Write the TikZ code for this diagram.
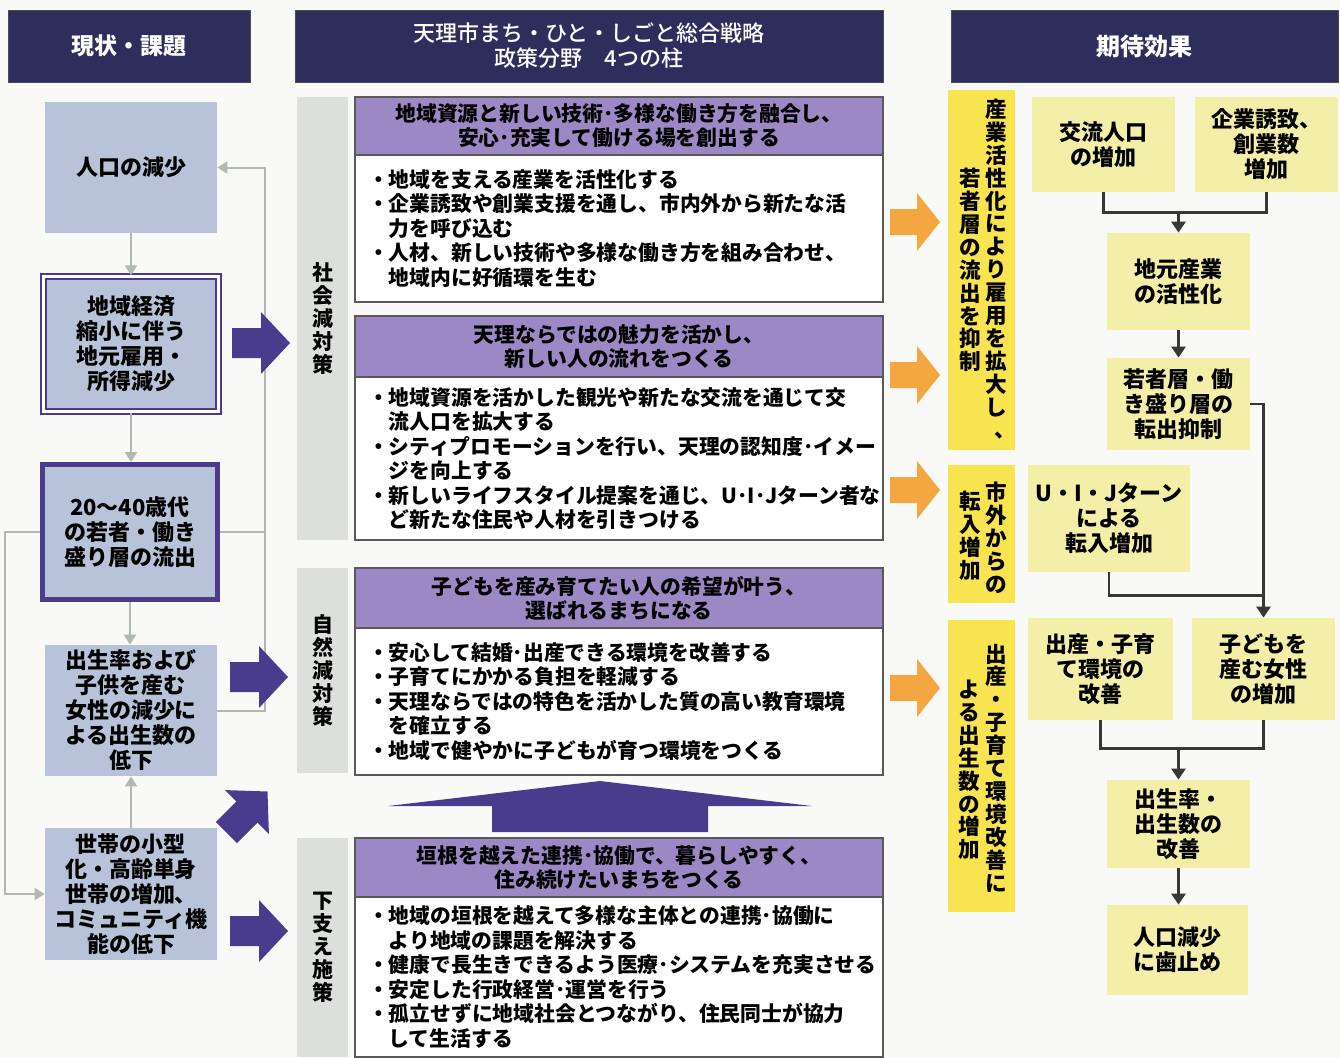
\documentclass[tikz,border=0pt]{standalone}
\usepackage{fontspec}
\setmainfont{Noto Sans CJK JP}
\newfontfamily\medjp{Noto Sans CJK JP Medium}
\usepackage{tikz}
\usetikzlibrary{arrows.meta}

\definecolor{hdrnavy}{RGB}{46,46,92}
\definecolor{probblue}{RGB}{184,194,216}
\definecolor{framepurple}{RGB}{76,58,140}
\definecolor{blockpurple}{RGB}{74,60,140}
\definecolor{pillarlilac}{RGB}{156,136,196}
\definecolor{tabgray}{RGB}{220,223,219}
\definecolor{effyellow}{RGB}{248,228,80}
\definecolor{resyellow}{RGB}{243,239,168}
\definecolor{flowgray}{RGB}{178,184,178}
\definecolor{flowdark}{RGB}{55,55,55}
\definecolor{arroworange}{RGB}{244,166,64}
\definecolor{paper}{RGB}{249,249,247}

% vertical comma, upper right of its cell
\newcommand{\vcomma}{\makebox[1em][l]{\hspace{.45em}\smash{\raisebox{.15em}{、}}}}

\tikzset{
  hdr/.style={fill=hdrnavy, draw=black!70, text=white, align=center, inner sep=0pt, font=\medjp\fontsize{11}{12.5}\selectfont},
  probbox/.style={fill=probblue, align=center, inner sep=0pt, minimum width=86pt, font=\bfseries\fontsize{11}{12.5}\selectfont},
  tab/.style={fill=tabgray, align=center, inner sep=0pt, minimum width=25.5pt, font=\bfseries\fontsize{10.5}{11.5}\selectfont},
  pillarhead/.style={fill=pillarlilac, draw=black!65, line width=0.8pt, align=center, inner sep=0pt, minimum width=264pt, font=\bfseries\fontsize{10.4}{12}\selectfont},
  pillarbody/.style={fill=white, draw=black!65, line width=0.8pt, align=left, text width=251pt, inner xsep=6.5pt, inner ysep=0pt, font=\bfseries\fontsize{10.4}{12.25}\selectfont},
  effbar/.style={fill=effyellow, inner sep=0pt, minimum width=33.5pt},
  vcol/.style={align=center, inner sep=0pt, font=\bfseries\fontsize{10.8}{11.45}\selectfont},
  resbox/.style={fill=resyellow, align=center, inner sep=0pt, minimum width=71.5pt, font=\bfseries\fontsize{11}{12.5}\selectfont},
  grayflow/.style={draw=flowgray, line width=1pt, -{Triangle[width=6pt,length=5pt]}},
  grayline/.style={draw=flowgray, line width=1pt},
  darkflow/.style={draw=flowdark, line width=1.4pt, -{Triangle[width=7pt,length=5.5pt]}},
  darkline/.style={draw=flowdark, line width=1.4pt},
  blockarrow/.pic={\fill[blockpurple] (-29,-15)--(0,-15)--(0,-31)--(29,0)--(0,31)--(0,15)--(-29,15)--cycle;},
  orangearrow/.pic={\fill[arroworange] (-27,-13)--(0,-13)--(0,-29)--(23,0)--(0,29)--(0,13)--(-27,13)--cycle;}
}

\begin{document}
\begin{tikzpicture}[x=0.5pt,y=-0.5pt]
		\useasboundingbox (0,0) rectangle (1340,1057);
		\clip (0,0) rectangle (1340,1057);
		\fill[paper] (0,0) rectangle (1340,1057);
		% headings
		\node[hdr, minimum width=121pt, minimum height=36pt, font=\bfseries\fontsize{11.5}{12.5}\selectfont] (hnow) at (129,46) {現状・課題};
		\node[hdr, minimum width=294pt, minimum height=36pt] (hplan) at (589,46) {天理市まち・ひと・しごと総合戦略\\政策分野　4つの柱};
		\node[hdr, minimum width=193.5pt, minimum height=36pt, font=\bfseries\fontsize{12}{13}\selectfont] (hgoal) at (1144.5,46) {期待効果};
		% present issues
		\node[probbox, minimum height=65.5pt] (pop) at (131,167.5) {人口の減少};
		\node[probbox, draw=framepurple, line width=1.2pt, double=white, double distance=1.2pt, minimum width=87.5pt, minimum height=67.5pt] (econ) at (131,344) {地域経済\\縮小に伴う\\地元雇用・\\所得減少};
		\node[probbox, draw=framepurple, line width=2.4pt, minimum width=87.6pt, minimum height=67.6pt] (youth) at (130,532) {20〜40歳代\\の若者・働き\\盛り層の流出};
		\node[probbox, minimum height=65.5pt] (birth) at (131,710.5) {出生率および\\子供を産む\\女性の減少に\\よる出生数の\\低下};
		\node[probbox, minimum height=66pt] (hh) at (131,894) {世帯の小型\\化・高齢単身\\世帯の増加、\\コミュニティ機\\能の低下};
		% grey links between issues
		\coordinate (loopR) at (265,167.5);
		\coordinate (loopL) at (5,894);
		\draw[grayflow] (pop) -- (econ);
		\draw[grayflow] (econ.south) -- (econ.south |- youth.north);
		\draw[grayflow] (youth.south) -- (youth.south |- birth.north);
		\draw[grayflow] (hh) -- (birth);
		\draw[grayflow] (birth.east) -| (loopR) -- (pop.east);
		\draw[grayline] (youth.east) -- (youth.east -| loopR);
		\draw[grayflow] (youth.west) -| (loopL) -- (hh.west);
		% pillar tabs
		\node[tab, minimum height=221.5pt] (tabsoc) at (322.5,318.5) {社\\会\\減\\対\\策};
		\node[tab, minimum height=102.5pt] (tabnat) at (322.5,670.5) {自\\然\\減\\対\\策};
		\node[tab, minimum height=109.5pt] (tabbase) at (322.5,947.5) {下\\支\\え\\施\\策};
		% four pillars
		\node[pillarhead, minimum height=29pt] (p1h) at (619,126) {地域資源と新しい技術･多様な働き方を融合し、\\安心･充実して働ける場を創出する};
		\node[pillarbody, minimum height=73.5pt] (p1b) at (619,228.5) {・地域を支える産業を活性化する\\・企業誘致や創業支援を通し、市内外から新たな活\\\phantom{・}力を呼び込む\\・人材、新しい技術や多様な働き方を組み合わせ、\\\phantom{・}地域内に好循環を生む};
		\node[pillarhead, minimum height=30.5pt] (p2h) at (619,346.5) {天理ならではの魅力を活かし、\\新しい人の流れをつくる};
		\node[pillarbody, minimum height=81.5pt] (p2b) at (619,458.5) {・地域資源を活かした観光や新たな交流を通じて交\\\phantom{・}流人口を拡大する\\・シティプロモーションを行い、天理の認知度･イメー\\\phantom{・}ジを向上する\\・新しいライフスタイル提案を通じ、U･I･Jターン者な\\\phantom{・}ど新たな住民や人材を引きつける};
		\node[pillarhead, minimum height=30pt] (p3h) at (619,598) {子どもを産み育てたい人の希望が叶う、\\選ばれるまちになる};
		\node[pillarbody, minimum height=73.5pt] (p3b) at (619,701.5) {・安心して結婚･出産できる環境を改善する\\・子育てにかかる負担を軽減する\\・天理ならではの特色を活かした質の高い教育環境\\\phantom{・}を確立する\\・地域で健やかに子どもが育つ環境をつくる};
		\node[pillarhead, minimum height=29.5pt] (p4h) at (619,867.5) {垣根を越えた連携･協働で、暮らしやすく、\\住み続けたいまちをつくる};
		\node[pillarbody, minimum height=80pt] (p4b) at (619,977) {・地域の垣根を越えて多様な主体との連携･協働に\\\phantom{・}より地域の課題を解決する\\・健康で長生きできるよう医療･システムを充実させる\\・安定した行政経営･運営を行う\\・孤立せずに地域社会とつながり、住民同士が協力\\\phantom{・}して生活する};
		% purple arrows into the pillars
		\pic at (261,343) {blockarrow};
		\pic at (259,677) {blockarrow};
		\pic[rotate=45] at (247,812) {blockarrow};
		\pic at (259,931) {blockarrow};
		\fill[blockpurple] (388,806) -- (600,781) -- (812,806) -- (708,806) -- (708,832) -- (492,832) -- (492,806) -- cycle;
		% orange arrows to the effects
		\pic at (917,222) {orangearrow};
		\pic at (917,375) {orangearrow};
		\pic at (917,490) {orangearrow};
		\pic at (917,688) {orangearrow};
		% yellow effect bars
		\node[effbar, minimum height=180pt] (bar1) at (981.5,270) {};
		\node[vcol] (bar1r) at (996,270) {産\\業\\活\\性\\化\\に\\よ\\り\\雇\\用\\を\\拡\\大\\し\\[1.5pt]\vcomma};
		\node[vcol] (bar1l) at (970,270) {若\\者\\層\\の\\流\\出\\を\\抑\\制};
		\node[effbar, minimum height=69pt] (bar2) at (981.5,534) {};
		\node[vcol] (bar2r) at (996,538) {市\\外\\か\\ら\\の};
		\node[vcol] (bar2l) at (970,536) {転\\入\\増\\加};
		\node[effbar, minimum height=146pt] (bar3) at (981.5,766) {};
		\node[vcol] (bar3r) at (996,768) {出\\産\\・\\子\\育\\て\\環\\境\\改\\善\\に};
		\node[vcol] (bar3l) at (969,770) {よ\\る\\出\\生\\数\\の\\増\\加};
		% expected results
		\node[resbox, minimum height=47.5pt] (exch) at (1103.5,144.5) {交流人口\\の増加};
		\node[resbox, minimum height=47.5pt] (firm) at (1266.5,144.5) {企業誘致、\\創業数\\増加};
		\node[resbox, minimum height=48.5pt] (ind) at (1178.5,281.5) {地元産業\\の活性化};
		\node[resbox, minimum height=46pt] (keep) at (1178.5,404) {若者層・働\\き盛り層の\\転出抑制};
		\node[resbox, minimum width=81pt, minimum height=53.5pt] (uij) at (1109,518.5) {U・I・Jターン\\による\\転入増加};
		\node[resbox, minimum width=72.5pt, minimum height=51pt] (care) at (1100.5,669) {出産・子育\\て環境の\\改善};
		\node[resbox, minimum height=51pt] (women) at (1263.5,669) {子どもを\\産む女性\\の増加};
		\node[resbox, minimum height=44pt] (rate) at (1178.5,824) {出生率・\\出生数の\\改善};
		\node[resbox, minimum width=70.5pt, minimum height=45pt] (stop) at (1177.5,950) {人口減少\\に歯止め};
		% result flow
		\draw[darkline] (exch.south) -- ++(0,20) coordinate (j1) -| (firm.south);
		\draw[darkflow] (j1 -| ind.north) -- (ind.north);
		\draw[darkflow] (ind) -- (keep);
		\draw[darkflow] (keep.east) -| (women.north);
		\draw[darkline] (uij.south) -- ++(0,23) coordinate (j2) -- (j2 -| women.north);
		\draw[darkline] (care.south) -- ++(0,28) coordinate (j3) -| (women.south);
		\draw[darkflow] (j3 -| rate.north) -- (rate.north);
		\draw[darkflow] (rate.south) -- (rate.south |- stop.north);
	\end{tikzpicture}
\end{document}
